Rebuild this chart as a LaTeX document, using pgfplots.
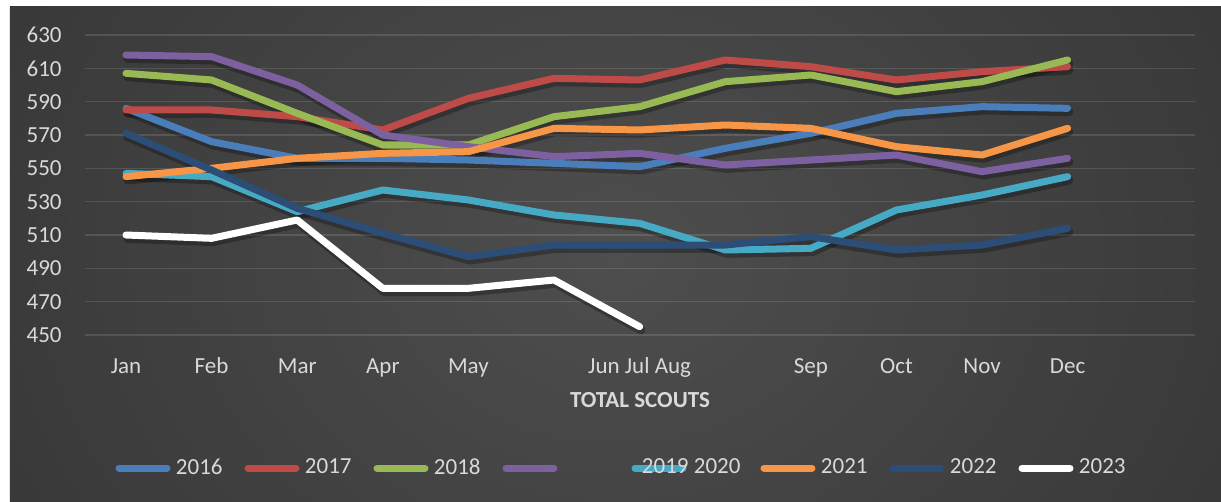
\documentclass[border=0pt]{standalone}
\usepackage{pgfplots}
\usepackage{pgfplotstable}
\pgfplotsset{compat=1.18}
\usepackage{fontspec}
\setmainfont{Carlito}
\definecolor{c16}{RGB}{74,126,187}
\definecolor{c17}{RGB}{190,75,72}
\definecolor{c18}{RGB}{152,185,84}
\definecolor{c19}{RGB}{125,96,160}
\definecolor{c20}{RGB}{70,170,197}
\definecolor{c21}{RGB}{247,150,70}
\definecolor{c22}{RGB}{44,77,117}
\definecolor{txt}{RGB}{217,217,217}
\definecolor{bgin}{RGB}{78,78,78}
\definecolor{bgout}{RGB}{41,41,41}
\pgfdeclareradialshading{bgshade}{\pgfpoint{0bp}{0bp}}{color(0bp)=(bgin); color(48bp)=(bgout); color(100bp)=(bgout)}

\pgfplotstableread{
m y2016 y2017 y2018 y2019 y2020 y2021 y2022 y2023
0  586 585 607 618 547 545 571 510
1  566 585 603 617 545 550 549 508
2  556 581 583 600 524 556 526 519
3  556 573 564 570 537 559 511 478
4  555 592 564 563 531 560 497 478
5  553 604 581 557 522 574 504 483
6  551 603 587 559 517 573 504 455
7  562 615 602 552 501 576 504 nan
8  571 611 606 555 502 574 509 nan
9  583 603 596 558 525 563 501 nan
10 587 608 602 548 534 558 504 nan
11 586 611 615 556 545 574 514 nan
}\data

\begin{document}
\begin{tikzpicture}
\fontsize{11.5bp}{13.8bp}\selectfont
% page
\fill[white] (-42.5bp,-83.5bp) rectangle (568bp,167.5bp);
\begin{scope}
\clip (-37.5bp,-83.5bp) rectangle (568bp,164bp);
\shade[shading=bgshade] (-37.5bp,-207bp) rectangle (568bp,288bp);
\end{scope}
\begin{axis}[
  at={(0,0)}, anchor=south west,
  scale only axis, width=555bp, height=150bp,
  xmin=-0.479, xmax=12.488, ymin=450, ymax=630,
  ytick={450,470,...,630},
  xtick={0,1,2,3,4,6,8,9,10,11},
  xticklabels={Jan,Feb,Mar,Apr,May,Jun Jul Aug,Sep,Oct,Nov,Dec},
  axis line style={draw=none}, tick style={draw=none},
  ymajorgrids, major grid style={draw=white, opacity=0.12, line width=0.7bp},
  /pgf/number format/assume math mode=true,
  ticklabel style={font=\fontsize{11.5bp}{13.8bp}\selectfont, text=txt},
  yticklabel style={anchor=east, inner sep=0pt, xshift=-11.5bp},
  xticklabel style={anchor=base, inner sep=0pt, yshift=-19bp},
  xlabel={\textbf{TOTAL SCOUTS}},
  xlabel style={at={(axis description cs:0.5,0)}, anchor=base, inner sep=0pt, yshift=-36bp, text=txt, font=\fontsize{11.5bp}{13.8bp}\selectfont},
  clip=false,
  every axis plot/.append style={line width=3.5bp, line cap=round, line join=round},
  shadow/.style={black, opacity=0.28, line width=4.2bp, xshift=0.8bp, yshift=-1.8bp, forget plot},
  legend columns=8,
  legend style={at={(0.02432,-0.44333)}, anchor=west, draw=none, fill=none, inner sep=0pt, outer sep=0pt,
    nodes={inner sep=0pt, text=txt, font=\fontsize{11.5bp}{13.8bp}\selectfont}, column sep=0pt},
  legend image code/.code={\path (0bp,0bp) (27.5bp,0bp); \draw[#1, line width=3.5bp, line cap=round] (1.75bp,0bp) -- (25.75bp,0bp);},
]
\addplot[shadow] table[x=m,y=y2016]{\data};
\addplot[shadow] table[x=m,y=y2017]{\data};
\addplot[shadow] table[x=m,y=y2018]{\data};
\addplot[shadow] table[x=m,y=y2019]{\data};
\addplot[shadow] table[x=m,y=y2020]{\data};
\addplot[shadow] table[x=m,y=y2021]{\data};
\addplot[shadow] table[x=m,y=y2022]{\data};
\addplot[shadow] table[x=m,y=y2023]{\data};
\addplot[c16] table[x=m,y=y2016]{\data};
\addlegendentry{\makebox[33.5bp][l]{\hspace{1bp}2016}}
\addplot[c17] table[x=m,y=y2017]{\data};
\addlegendentry{\makebox[33.5bp][l]{\hspace{1bp}2017}}
\addplot[c18] table[x=m,y=y2018]{\data};
\addlegendentry{\makebox[33.5bp][l]{\hspace{1bp}2018}}
\addplot[c19] table[x=m,y=y2019]{\data};
\addlegendentry{\makebox[33.5bp][l]{}}
\addplot[c20] table[x=m,y=y2020]{\data};
\addlegendentry{\makebox[33.5bp][l]{\hspace{-24bp}2019 2020}}
\addplot[c21] table[x=m,y=y2021]{\data};
\addlegendentry{\makebox[33.5bp][l]{\hspace{1bp}2021}}
\addplot[c22] table[x=m,y=y2022]{\data};
\addlegendentry{\makebox[33.5bp][l]{\hspace{1bp}2022}}
\addplot[white] table[x=m,y=y2023]{\data};
\addlegendentry{\makebox[33.5bp][l]{\hspace{1bp}2023}}
\end{axis}
\end{tikzpicture}
\end{document}
